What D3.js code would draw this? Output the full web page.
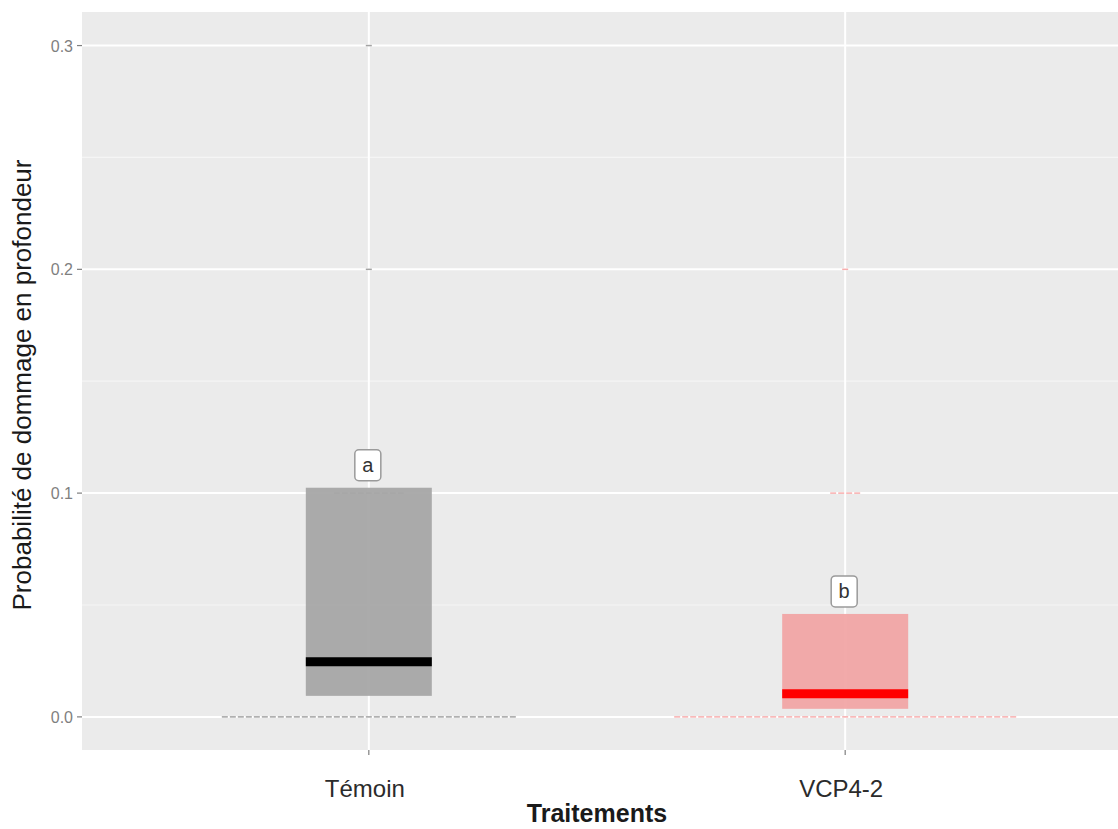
<!DOCTYPE html>
<html><head><meta charset="utf-8">
<script src="https://cdn.jsdelivr.net/npm/d3@7"></script>
<style>body{margin:0;background:#fff}svg{display:block}</style>
</head><body>
<svg id="chart" width="1118" height="829"></svg>
<script>
const categories = ["Témoin", "VCP4-2"];
const q1 = [0.0094, 0.0036];
const medians = [0.0246, 0.0103];
const q3 = [0.1024, 0.046];
const letters = ["a", "b"];
const pointValues = [[0, 0.1, 0.2, 0.3], [0, 0.1, 0.2]];
const pointCounts = [[37, 9, 1, 1], [43, 4, 1]];
const yTicks = [0, 0.1, 0.2, 0.3];
const yMinor = [0.05, 0.15, 0.25];
const boxFill = ["#a6a6a6", "#f1a5a5"];
const medianColor = ["#000000", "#ff0000"];
const pointColor = ["#8c8c8c", "#f59a9a"];

const svg = d3.select("#chart");
const panel = {left: 82, top: 12, right: 1118, bottom: 750};

const y = d3.scaleLinear().domain([-0.0148, 0.315]).range([panel.bottom, panel.top]);
const x = d3.scalePoint().domain(categories).range([83, 1131]).padding(0.6);
const bw = 126;

svg.append("rect").attr("x", panel.left).attr("y", panel.top)
  .attr("width", panel.right - panel.left).attr("height", panel.bottom - panel.top)
  .attr("fill", "#ebebeb");

const grid = svg.append("g");
grid.selectAll(".minor").data(yMinor).join("line")
  .attr("x1", panel.left).attr("x2", panel.right)
  .attr("y1", d => y(d)).attr("y2", d => y(d))
  .attr("stroke", "#f5f5f5").attr("stroke-width", 1.2);
grid.selectAll(".major").data(yTicks).join("line")
  .attr("x1", panel.left).attr("x2", panel.right)
  .attr("y1", d => y(d)).attr("y2", d => y(d))
  .attr("stroke", "#ffffff").attr("stroke-width", 2);
grid.selectAll(".vmajor").data(categories).join("line")
  .attr("x1", d => x(d)).attr("x2", d => x(d))
  .attr("y1", panel.top).attr("y2", panel.bottom)
  .attr("stroke", "#ffffff").attr("stroke-width", 2);

// points (dot strips)
categories.forEach((c, i) => {
  const g = svg.append("g");
  pointValues[i].forEach((v, j) => {
    const n = pointCounts[i][j];
    const step = 8;
    const start = x(c) - n * step / 2;
    for (let k = 0; k < n; k++) {
      g.append("line")
        .attr("x1", start + k * step + 1).attr("x2", start + k * step + 7)
        .attr("y1", y(v)).attr("y2", y(v))
        .attr("stroke", pointColor[i]).attr("stroke-width", 1.5)
        .attr("stroke-opacity", 0.8);
    }
  });
});

// boxes
categories.forEach((c, i) => {
  svg.append("rect")
    .attr("x", x(c) - bw / 2).attr("width", bw)
    .attr("y", y(q3[i])).attr("height", y(q1[i]) - y(q3[i]))
    .attr("fill", boxFill[i]).attr("fill-opacity", 0.95);
  svg.append("line")
    .attr("x1", x(c) - bw / 2).attr("x2", x(c) + bw / 2)
    .attr("y1", y(medians[i])).attr("y2", y(medians[i]))
    .attr("stroke", medianColor[i]).attr("stroke-width", 9);
  const lw = 26, lh = 31;
  const cy = y(q3[i]) - 7 - lh / 2;
  svg.append("rect")
    .attr("x", x(c) - lw / 2 - 1).attr("y", cy - lh / 2)
    .attr("width", lw).attr("height", lh).attr("rx", 4)
    .attr("fill", "#ffffff").attr("stroke", "#9a9a9a").attr("stroke-width", 1.5);
  svg.append("text")
    .attr("x", x(c) - 1).attr("y", cy + 7)
    .attr("text-anchor", "middle")
    .attr("font-family", "Liberation Sans, Arial, sans-serif")
    .attr("font-size", 20).attr("fill", "#333")
    .text(letters[i]);
});

// y axis
const yAxis = svg.append("g");
yAxis.selectAll("line").data(yTicks).join("line")
  .attr("x1", panel.left - 5).attr("x2", panel.left)
  .attr("y1", d => y(d)).attr("y2", d => y(d))
  .attr("stroke", "#7f7f7f").attr("stroke-width", 1.2);
yAxis.selectAll("text").data(yTicks).join("text")
  .attr("x", panel.left - 9).attr("y", d => y(d) + 6)
  .attr("text-anchor", "end")
  .attr("font-family", "Liberation Sans, Arial, sans-serif")
  .attr("font-size", 16).attr("fill", "#7f7f7f")
  .text(d => d3.format(".1f")(d));

// x axis
const xAxis = svg.append("g");
xAxis.selectAll("line").data(categories).join("line")
  .attr("x1", d => x(d)).attr("x2", d => x(d))
  .attr("y1", panel.bottom).attr("y2", panel.bottom + 5)
  .attr("stroke", "#7f7f7f").attr("stroke-width", 1.2);
xAxis.selectAll("text").data(categories).join("text")
  .attr("x", d => x(d) - 4).attr("y", 797)
  .attr("text-anchor", "middle")
  .attr("font-family", "Liberation Sans, Arial, sans-serif")
  .attr("font-size", 24).attr("fill", "#2b2b2b")
  .text(d => d);

svg.append("text")
  .attr("x", 597).attr("y", 822)
  .attr("text-anchor", "middle")
  .attr("font-family", "Liberation Sans, Arial, sans-serif")
  .attr("font-size", 25).attr("font-weight", "bold").attr("fill", "#1a1a1a")
  .text("Traitements");

svg.append("text")
  .attr("transform", "translate(31,385) rotate(-90)")
  .attr("text-anchor", "middle")
  .attr("font-family", "Liberation Sans, Arial, sans-serif")
  .attr("font-size", 26).attr("fill", "#1a1a1a")
  .text("Probabilité de dommage en profondeur");
</script>
</body></html>
